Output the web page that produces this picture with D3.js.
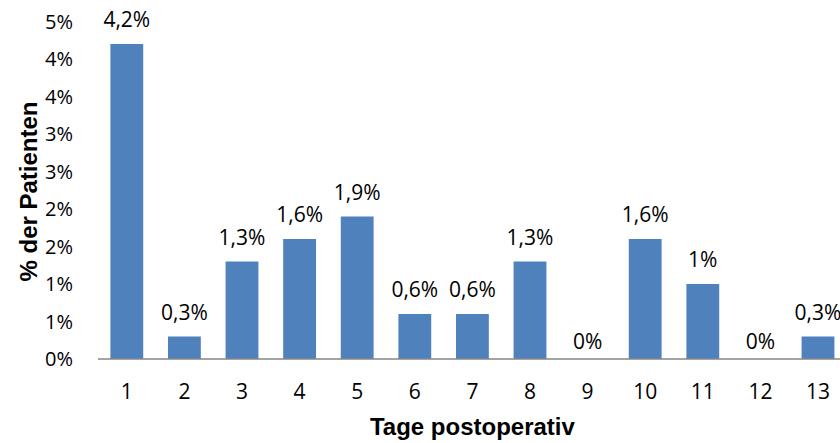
<!DOCTYPE html>
<html>
<head>
<meta charset="utf-8">
<script src="https://cdn.jsdelivr.net/npm/d3@7"></script>
<style>
  html, body { margin: 0; padding: 0; background: #fff; overflow: hidden; }
  svg { display: block; }
</style>
</head>
<body>
<svg id="chart" width="840" height="443"></svg>
<script>
// Postoperative day and share of patients (%)
const days = ["1","2","3","4","5","6","7","8","9","10","11","12","13"];
const shares = [4.2, 0.3, 1.3, 1.6, 1.9, 0.6, 0.6, 1.3, 0, 1.6, 1, 0, 0.3];
const yTicks = [0, 0.5, 1, 1.5, 2, 2.5, 3, 3.5, 4, 4.5];
const xTitle = "Tage postoperativ";
const yTitle = "% der Patienten";

const svg = d3.select("#chart");
const labelFont = "'Open Sans', 'Noto Sans', sans-serif";
const titleFont = "'Liberation Sans', Arial, sans-serif";

const plotLeft = 98, step = 57.6;
const x = d3.scaleBand()
  .domain(days)
  .range([plotLeft, plotLeft + step * days.length])
  .paddingInner(0.43)
  .paddingOuter(0.215);

const y = d3.scaleLinear().domain([0, 4.5]).range([359, 21.5]);

const pct = v => String(v).replace(".", ",") + "%";

// y tick labels (rounded to whole percent)
svg.append("g")
  .selectAll("text")
  .data(yTicks)
  .join("text")
  .attr("x", 73)
  .attr("y", d => y(d))
  .attr("dy", "0.36em")
  .attr("text-anchor", "end")
  .attr("font-family", labelFont)
  .attr("font-size", 20)
  .attr("fill", "#000")
  .text(d => Math.round(d) + "%");

// bars
svg.append("g")
  .selectAll("rect")
  .data(shares)
  .join("rect")
  .attr("x", (d, i) => x(days[i]))
  .attr("width", x.bandwidth())
  .attr("y", d => y(d))
  .attr("height", d => y(0) - y(d))
  .attr("fill", "#4F81BD");

// value labels
svg.append("g")
  .selectAll("text")
  .data(shares)
  .join("text")
  .attr("x", (d, i) => x(days[i]) + x.bandwidth() / 2)
  .attr("y", d => y(d) - (d > 0 ? 17 : 10))
  .attr("text-anchor", "middle")
  .attr("font-family", labelFont)
  .attr("font-size", 21)
  .attr("fill", "#000")
  .text(d => pct(d));

// baseline
svg.append("line")
  .attr("x1", plotLeft).attr("x2", 840)
  .attr("y1", y(0)).attr("y2", y(0))
  .attr("stroke", "#868686")
  .attr("stroke-width", 1.5);

// category labels
svg.append("g")
  .selectAll("text")
  .data(days)
  .join("text")
  .attr("x", d => x(d) + x.bandwidth() / 2)
  .attr("y", 399)
  .attr("text-anchor", "middle")
  .attr("font-family", labelFont)
  .attr("font-size", 21)
  .attr("fill", "#000")
  .text(d => d);

// axis titles
svg.append("text")
  .attr("x", plotLeft + step * days.length / 2)
  .attr("y", 435)
  .attr("text-anchor", "middle")
  .attr("font-family", titleFont)
  .attr("font-weight", "bold")
  .attr("font-size", 24)
  .text(xTitle);

svg.append("text")
  .attr("transform", "translate(37,191.5) rotate(-90)")
  .attr("text-anchor", "middle")
  .attr("font-family", titleFont)
  .attr("font-weight", "bold")
  .attr("font-size", 24)
  .text(yTitle);
</script>
</body>
</html>
